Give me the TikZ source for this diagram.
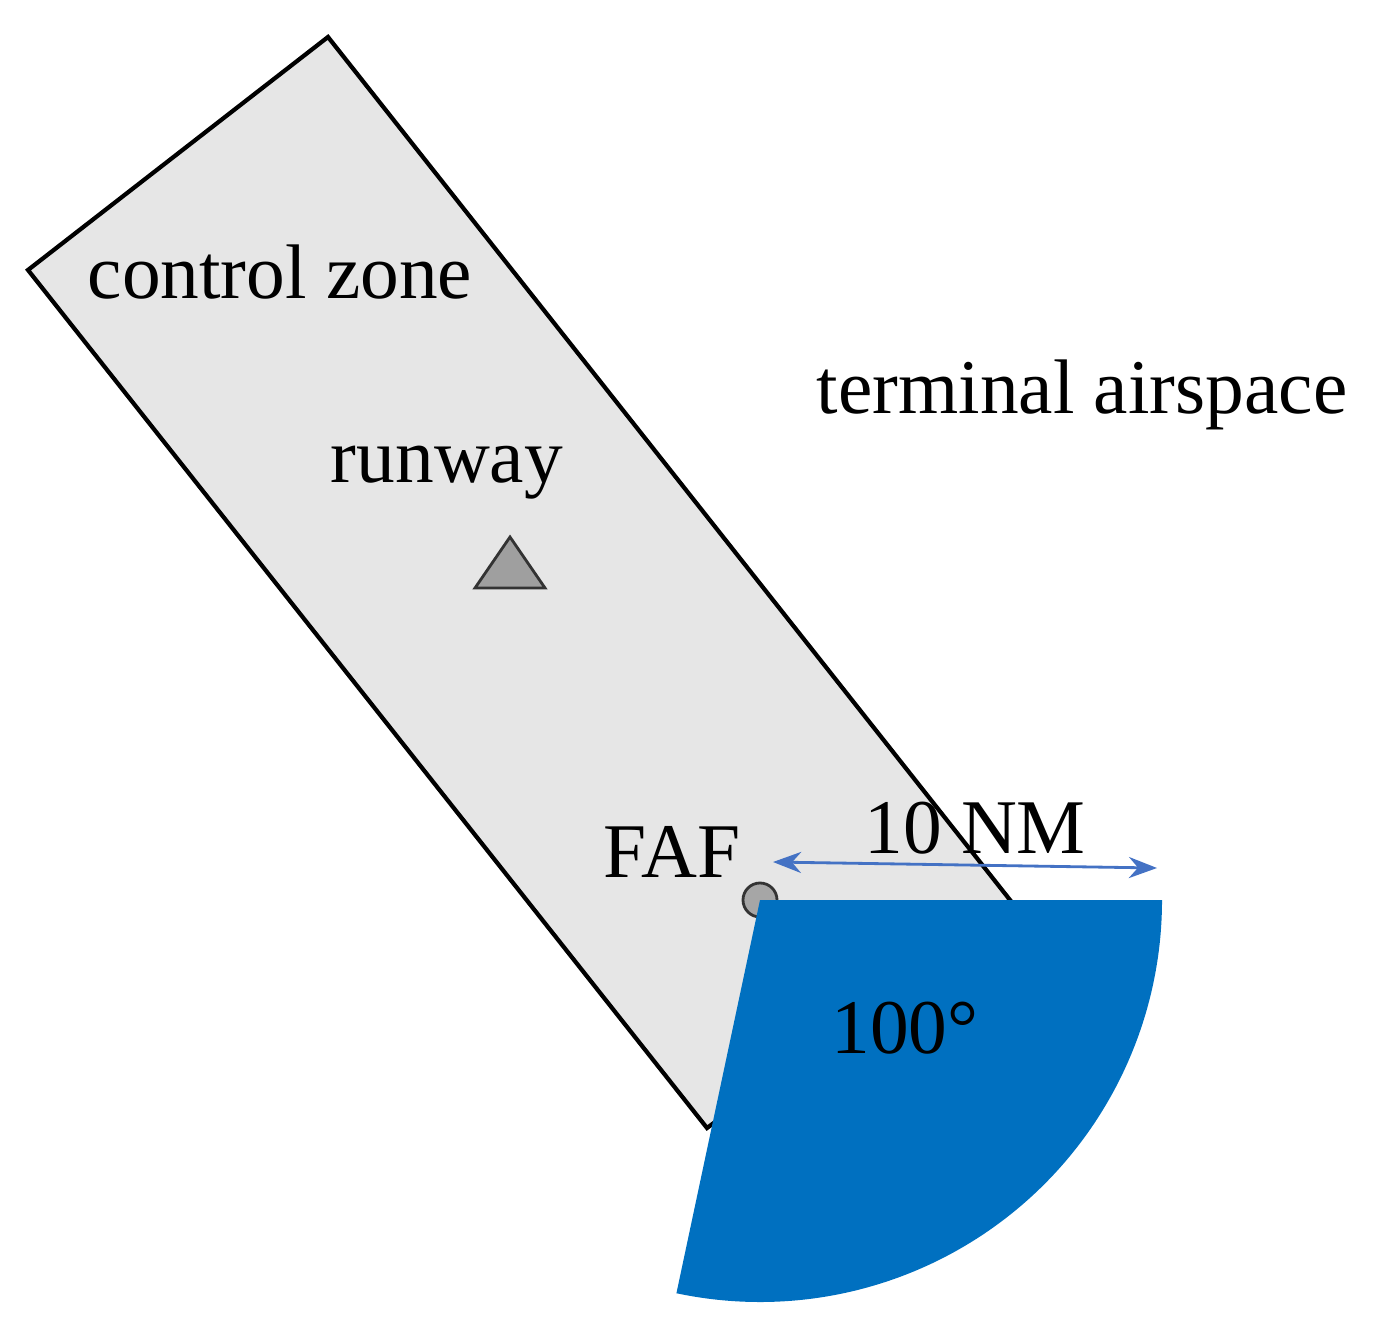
\documentclass[tikz,border=0pt]{standalone}
\usepackage{fontspec}
\setmainfont{Liberation Serif}
\usetikzlibrary{arrows.meta}
\definecolor{secblue}{HTML}{0070C0}
\definecolor{zonegray}{HTML}{E6E6E6}
\definecolor{arrblue}{HTML}{4472C4}
\begin{document}
\begin{tikzpicture}[x=0.01cm,y=-0.01cm,
  lbl/.style={font=\fontsize{22}{26}\selectfont, inner sep=0pt}]
\useasboundingbox (0,0) rectangle (1380,1328);
\coordinate (t) at (328,37);
\coordinate (r) at (1010,900);
\coordinate (b) at (707,1128);
\coordinate (l) at (28,270);
\draw[fill=zonegray, line width=1.2pt] (t) -- (r) -- (b) -- (l) -- cycle;
\coordinate (c) at (760,900);
\node[circle, draw=black!80, fill=gray!70, minimum size=0.34cm, inner sep=0pt, line width=0.8pt] (faf) at (c) {};
\fill[secblue] (c) -- ++(0:402) arc[start angle=0, end angle=102, radius=402] -- cycle;
\node[lbl] (cz) at (280,272) {control zone};
\node[lbl] (ta) at (1082,395) {terminal airspace};
\node[lbl] (rw) at (447,473) {runway};
\coordinate (tri) at (510,565);
\draw[fill=gray!75, draw=black!80, line width=0.8pt] (475,588) -- (545,588) -- (510,537) -- cycle;
\node[lbl] (fl) at (672,852) {FAF};
\node[lbl] (nm) at (975,828) {10 NM};
\node[lbl] (ang) at (905,1028) {100°};
\coordinate (a1) at (773,862);
\coordinate (a2) at (1157,868);
\draw[{Stealth[length=8pt]}-{Stealth[length=8pt]}, draw=arrblue, line width=0.8pt] (a1) -- (a2);
\end{tikzpicture}
\end{document}
